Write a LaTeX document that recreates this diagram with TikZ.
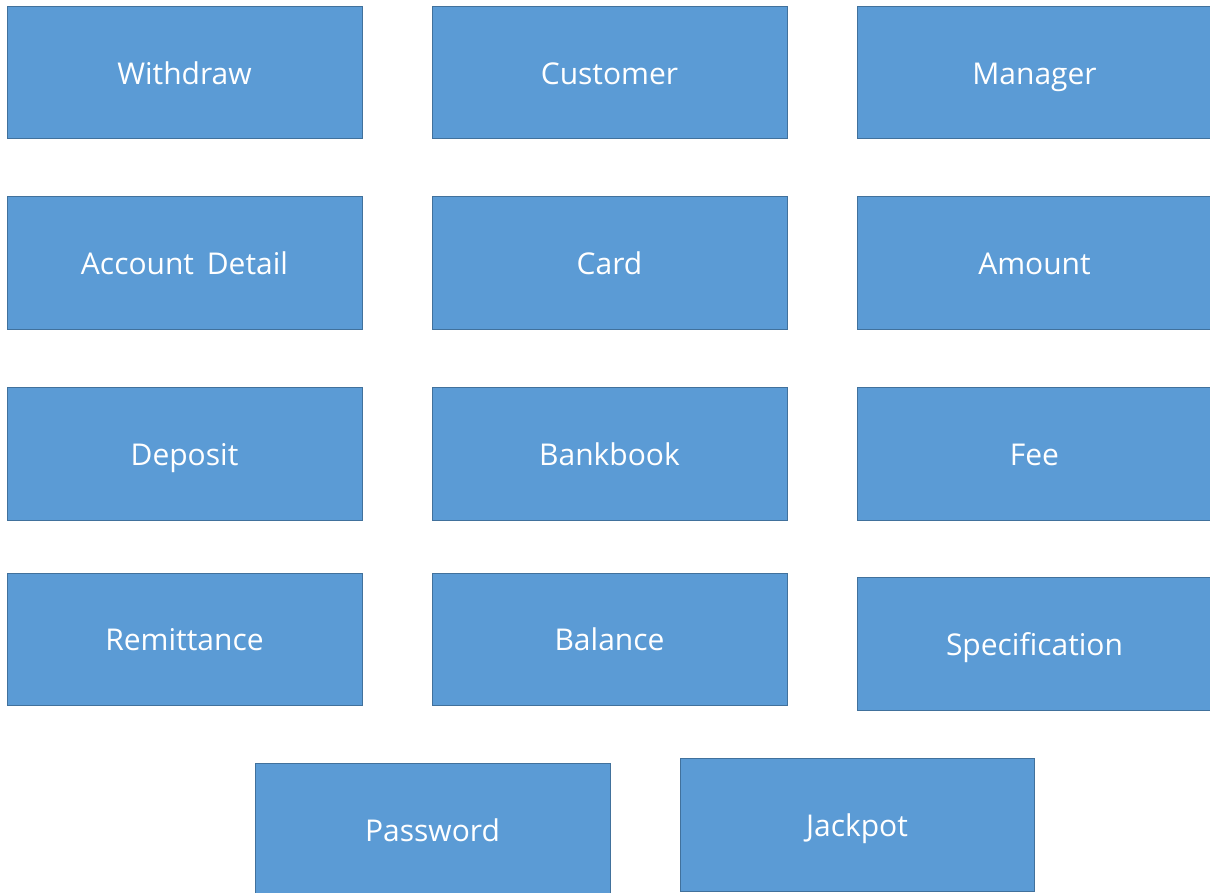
\documentclass[tikz,border=0pt]{standalone}
\usepackage{fontspec}
\setmainfont{Open Sans}
\definecolor{boxfill}{HTML}{5B9BD5}
\definecolor{boxline}{HTML}{41719C}
\begin{document}
\begin{tikzpicture}[x=1pt,y=-1pt,
  entity/.style={draw=boxline,line width=1pt,fill=boxfill,text=white,
    font=\fontsize{30}{34}\selectfont,inner sep=0pt,
    text height=23pt,text depth=0pt}]
\useasboundingbox (0,0) rectangle (1210,893);
\newcommand{\ebox}[6]{%
  \node[entity,minimum width={(#4-#2)*1pt},minimum height={(#5-#3)*1pt}] (#1) at ({(#2+#4)/2},{(#3+#5)/2}) {#6};}
\ebox{withdraw}{7}{7}{362}{139}{Withdraw}
\ebox{customer}{432}{7}{787}{139}{Customer}
\ebox{manager}{857}{7}{1212}{139}{Manager}
\ebox{account}{7}{197}{362}{329}{Account\, Detail}
\ebox{card}{432}{197}{787}{329}{Card}
\ebox{amount}{857}{197}{1212}{329}{Amount}
\ebox{deposit}{7}{387}{362}{520}{Deposit}
\ebox{bankbook}{432}{387}{787}{520}{Bankbook}
\ebox{fee}{857}{387}{1212}{520}{Fee}
\ebox{remittance}{7}{573}{362}{705}{Remittance}
\ebox{balance}{432}{573}{787}{705}{Balance}
\ebox{spec}{857}{577}{1212}{710}{Specification}
\ebox{password}{255}{763}{610}{897}{Password}
\ebox{jackpot}{680}{758}{1034}{891}{Jackpot}
\end{tikzpicture}
\end{document}
